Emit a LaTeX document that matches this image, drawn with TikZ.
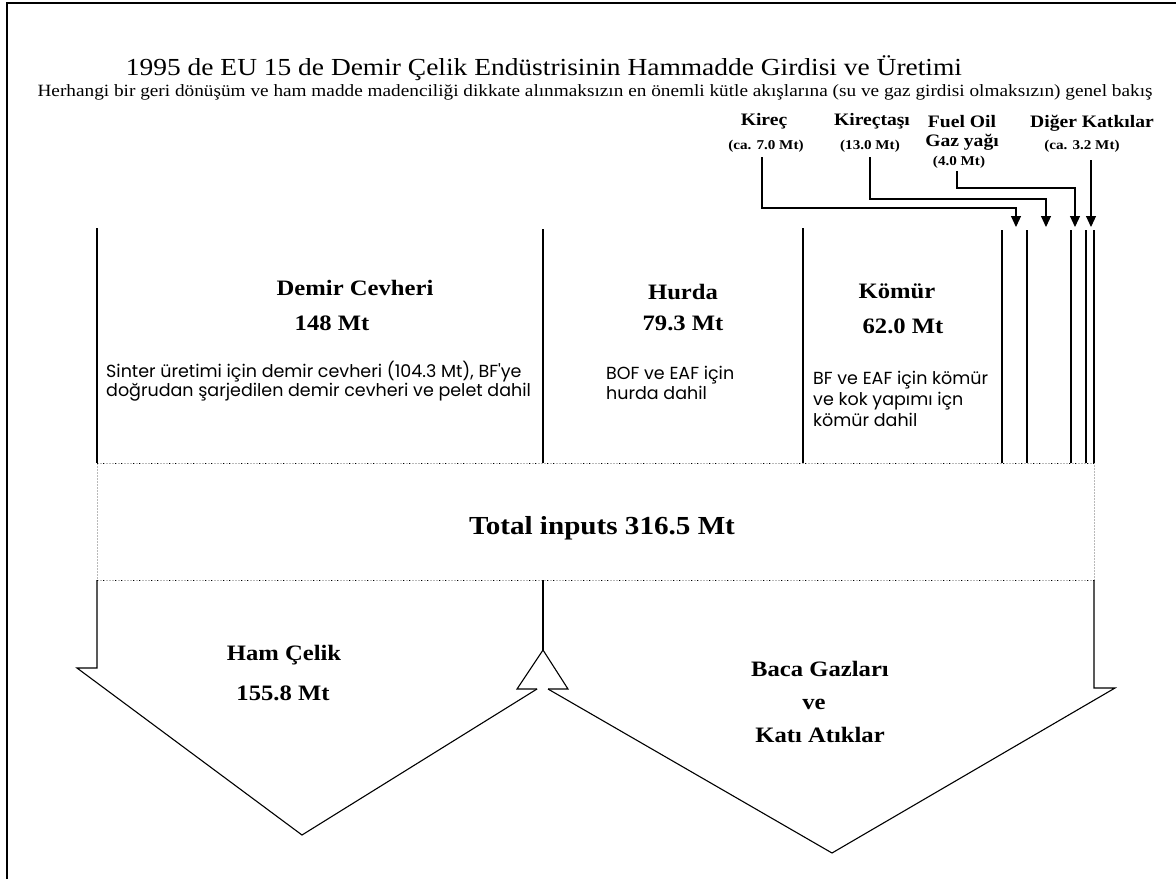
\documentclass[tikz,border=0pt]{standalone}
\usepackage{fontspec}
\setmainfont{Liberation Serif}[FakeStretch=1.12]
\newfontfamily\geofont{Poppins}
\usetikzlibrary{arrows.meta}
\begin{document}
\begin{tikzpicture}[x=1pt,y=-1pt,
  ln/.style={line width=1.1pt, line join=miter},
  arr/.style={ln, -{Triangle[length=11pt,width=10pt]}},
  big/.style={font=\bfseries\fontsize{22}{24}\selectfont, inner sep=0pt, anchor=base},
  toplbl/.style={font=\bfseries\fontsize{17.5}{19}\selectfont, inner sep=0pt, anchor=base},
  amt/.style={font=\bfseries\fontsize{13.5}{15}\selectfont, inner sep=0pt, anchor=base},
  note/.style={font=\geofont\fontsize{17.5}{20}\selectfont, inner sep=0pt, anchor=base west},
  dotbox/.style={draw=gray!55, line width=0.8pt, dash pattern=on 2pt off 1pt},
  dotmarks/.style={draw=black, line width=1pt, dash pattern=on 1pt off 5pt on 1pt off 11pt}
]
\useasboundingbox (0,0) rectangle (1176,879);
\fill[white] (0,0) rectangle (1176,879);
\draw[line width=1.5pt] (7,879) -- (7,3) -- (1176,3);

% titles
\node[font=\fontsize{24.5}{28}\selectfont, inner sep=0pt, anchor=base] (title) at (544,75)
  {1995 de EU 15 de Demir Çelik Endüstrisinin Hammadde Girdisi ve Üretimi};
\node[font=\fontsize{17.2}{19}\selectfont, inner sep=0pt, anchor=base] (sub) at (595,96)
  {Herhangi bir geri dönüşüm ve ham madde madenciliği dikkate alınmaksızın en önemli kütle akışlarına (su ve gaz girdisi olmaksızın) genel bakış};

% additive labels
\node[toplbl] (kirec) at (764,125) {Kireç};
\node[amt] (kirecv) at (766,149) {(ca. 7.0 Mt)};
\node[toplbl] (kirtas) at (872,125) {Kireçtaşı};
\node[amt] (kirtasv) at (870,149) {(13.0 Mt)};
\node[toplbl] (fuel) at (962,127) {Fuel Oil};
\node[toplbl] (gaz) at (962,146) {Gaz yağı};
\node[amt] (fuelv) at (959,165) {(4.0 Mt)};
\node[toplbl] (diger) at (1092,127) {Diğer Katkılar};
\node[amt] (digerv) at (1082,149) {(ca. 3.2 Mt)};

% connector coordinates
\coordinate (kirS) at (762,157);  \coordinate (kirT) at (1016,227);
\coordinate (tasS) at (870,157);  \coordinate (tasT) at (1046,227);
\coordinate (fuelS) at (957,171); \coordinate (fuelT) at (1075,227);
\coordinate (digS) at (1091,160); \coordinate (digT) at (1091,227);
\draw[arr] (kirS) -- (762,208) -| (kirT);
\draw[arr] (tasS) -- (870,199) -| (tasT);
\draw[arr] (fuelS) -- (957,188) -| (fuelT);
\draw[arr] (digS) -- (digT);

% input streams
\draw[ln] (97,228) -- (97,463);
\draw[ln] (543,229) -- (543,463);
\draw[ln] (803,228) -- (803,463);
\foreach \x in {1002,1027,1071,1086,1094} \draw[ln] (\x,230) -- (\x,463);

\node[big] (demir) at (355,295) {Demir Cevheri};
\node[big] (demirv) at (332,330) {148 Mt};
\node[note] (s1) at (106,377) {Sinter üretimi için demir cevheri (104.3 Mt), BF'ye};
\node[note] (s2) at (106,396) {doğrudan şarjedilen demir cevheri ve pelet dahil};

\node[big] (hurda) at (683,299) {Hurda};
\node[big] (hurdav) at (683,330) {79.3 Mt};
\node[note] (h1) at (606,379) {BOF ve EAF için};
\node[note] (h2) at (606,399) {hurda dahil};

\node[big] (komur) at (897,298) {Kömür};
\node[big] (komurv) at (903,333) {62.0 Mt};
\node[note] (k1) at (813,384) {BF ve EAF için kömür};
\node[note] (k2) at (813,405) {ve kok yapımı içn};
\node[note] (k3) at (813,426) {kömür dahil};

% total box
\path[dotbox] (97,463) rectangle (1094,580);
\draw[dotmarks] (97,463) -- (1094,463);
\draw[dotmarks] (97,580) -- (1094,580);
\node[font=\bfseries\fontsize{26}{28}\selectfont, inner sep=0pt, anchor=base] (total) at (602,534) {Total inputs 316.5 Mt};

% outputs
\draw[ln] (97,580) -- (97,668) -- (77,668) -- (302,835) -- (537,689);
\draw[ln] (543,580) -- (543,650);
\draw[ln] (537,689) -- (517,689) -- (543,650) -- (568,689) -- (548,689);
\draw[ln] (548,689) -- (832,853) -- (1115,688) -- (1094,688) -- (1094,580);

\node[big] (ham) at (284,660) {Ham Çelik};
\node[big] (hamv) at (283,700) {155.8 Mt};
\node[big] (baca) at (820,676) {Baca Gazları};
\node[big] (ve) at (814,709) {ve};
\node[big] (kati) at (820,742) {Katı Atıklar};
\end{tikzpicture}
\end{document}
